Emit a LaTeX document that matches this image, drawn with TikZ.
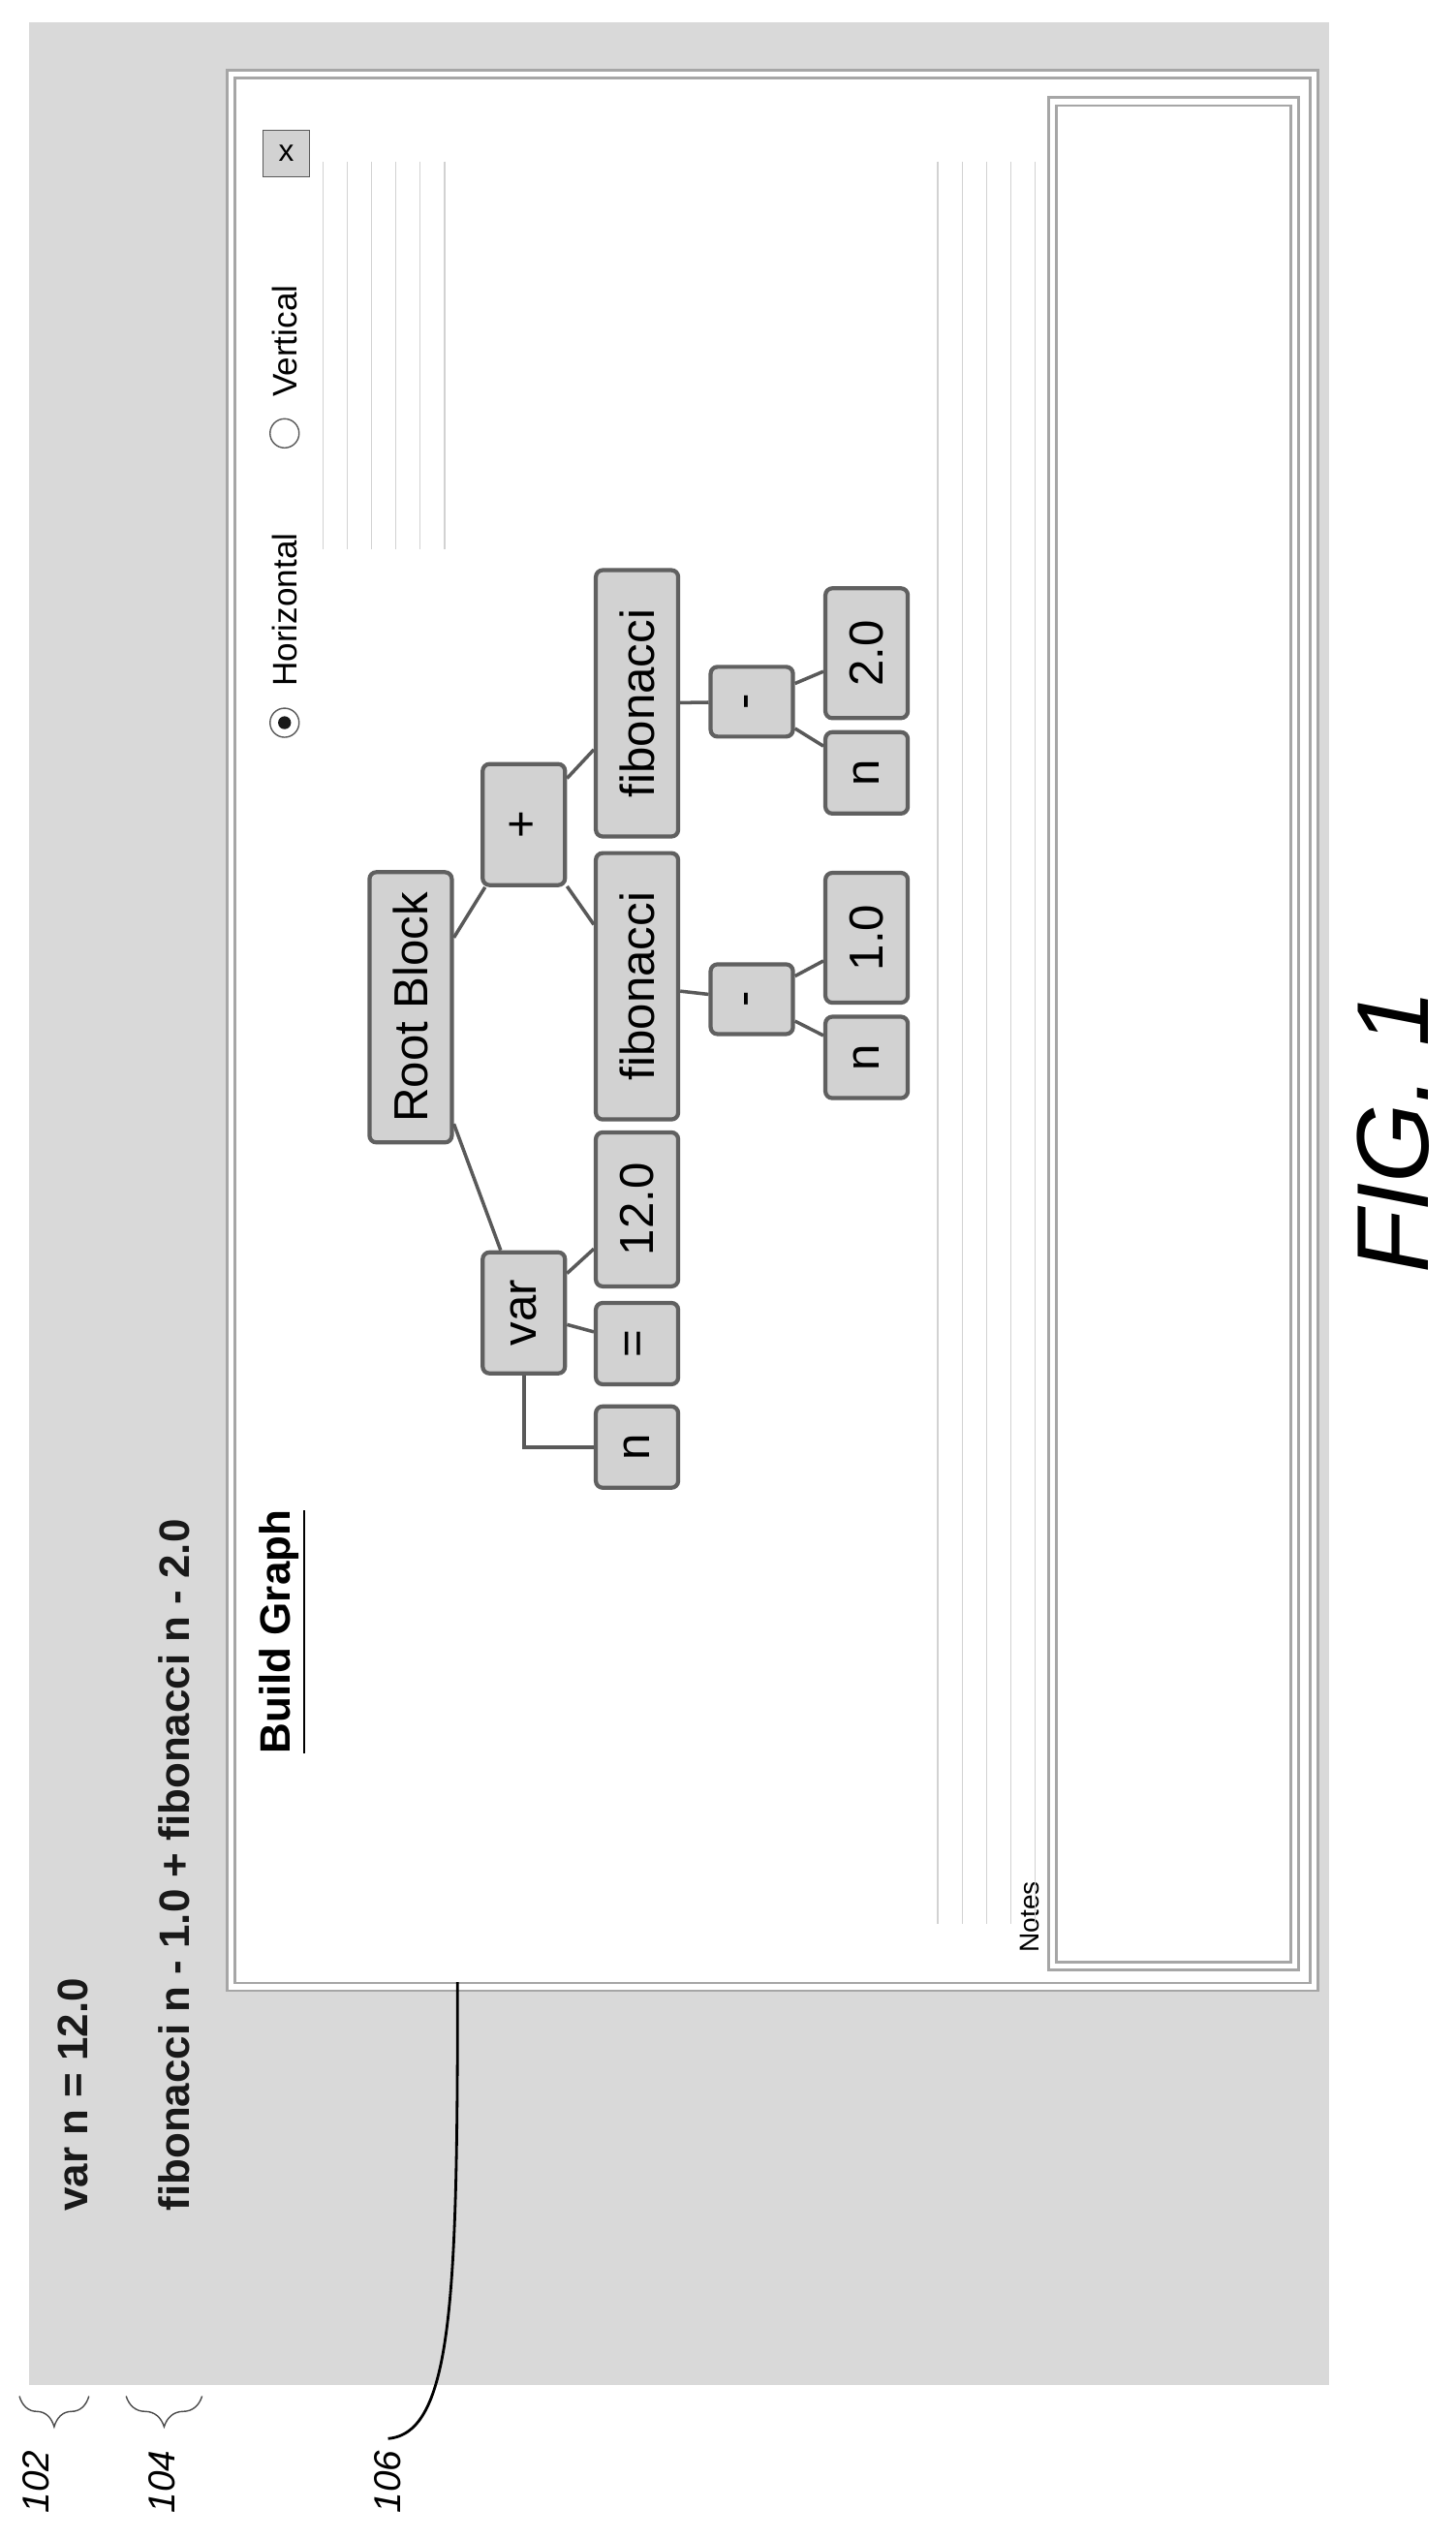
\documentclass[tikz,border=0pt]{standalone}
\usepackage{fontspec}
\setmainfont{Liberation Sans}
\usetikzlibrary{decorations.pathreplacing}

\begin{document}
\begin{tikzpicture}[
    x=0.01669cm, y=-0.01669cm,
    block/.style={rectangle, draw=gray!75!black, line width=1.2pt, rounded corners=2pt, fill=gray!35, minimum height=0.85cm, rotate=90, font=\fontsize{14}{16}\selectfont, inner sep=1pt},
    edge/.style={draw=gray!70!black, line width=1pt},
    frame/.style={draw=gray!70, line width=0.8pt, double=white, double distance=1.5pt},
    rotlabel/.style={rotate=90, font=\fontsize{10}{12}\selectfont},
    srcline/.style={rotate=90, anchor=west, font=\fontsize{12.5}{14}\selectfont\bfseries, text=gray!20!black},
    refnum/.style={rotate=90, font=\fontsize{11}{13}\selectfont\itshape},
    faint/.style={draw=gray!35, line width=0.3pt}
]
    \useasboundingbox (0,0) rectangle (900,1571);
    % Background panel
    \fill[gray!30] (18,14) rectangle (822,1475);
    % Source lines
    \node[srcline] (line1) at (45,1375) {var n = 12.0};
    \node[srcline] (line2) at (108,1375) {fibonacci n - 1.0 + fibonacci n - 2.0};
    % Window
    \node[frame, fill=white, minimum width=670*0.01669cm, minimum height=1183*0.01669cm, anchor=north west, inner sep=0pt] (win) at (142,45) {};
    \node[frame, fill=white, minimum width=150*0.01669cm, minimum height=1153*0.01669cm, anchor=north west, inner sep=0pt] (notes) at (650,62) {};
    \node[rotlabel, anchor=west, font=\fontsize{8}{10}\selectfont] (noteslbl) at (637,1215) {Notes};
    % Faint guide lines
    \foreach \gx in {200,215,230,245,260,275}
        \draw[faint] (\gx,100) -- (\gx,340);
    \foreach \gx in {580,595,610,625,640}
        \draw[faint] (\gx,100) -- (\gx,1190);
    % Title and controls
    \node[rotate=90, anchor=west, font=\fontsize{12.5}{15}\selectfont\bfseries] (title) at (175,1092) {\underline{Build Graph}};
    \node[rectangle, draw=gray!70!black, fill=gray!35, minimum size=0.48cm, inner sep=0pt, font=\small] (close) at (177,95) {x};
    \node[circle, draw=gray!70!black, fill=white, minimum size=0.3cm, inner sep=0pt] (radioh) at (176,447) {};
    \fill[gray!20!black] (radioh) circle (4);
    \node[rotlabel, anchor=west] (horiz) at (176,432) {Horizontal};
    \node[circle, draw=gray!70!black, fill=white, minimum size=0.3cm, inner sep=0pt] (radiov) at (176,268) {};
    \node[rotlabel, anchor=west] (vert) at (176,253) {Vertical};
    % Tree nodes
    \node[block, minimum width=2.79cm] (root) at (254,623) {Root Block};
    \node[block, minimum width=1.25cm] (var) at (324,812) {var};
    \node[block, minimum width=1.25cm] (plus) at (324,510) {+};
    \node[block, minimum width=0.84cm] (nv) at (394,895) {n};
    \node[block, minimum width=0.84cm] (eq) at (394,831) {=};
    \node[block, minimum width=1.59cm] (twelve) at (394,748) {12.0};
    \node[block, minimum width=2.75cm] (fibA) at (394,610) {fibonacci};
    \node[block, minimum width=2.75cm] (fibB) at (394,435) {fibonacci};
    \node[block, minimum width=0.72cm] (minA) at (465,618) {-};
    \node[block, minimum width=0.72cm] (minB) at (465,434) {-};
    \node[block, minimum width=0.84cm] (nA) at (536,654) {n};
    \node[block, minimum width=1.34cm] (oneA) at (536,580) {1.0};
    \node[block, minimum width=0.84cm] (nB) at (536,478) {n};
    \node[block, minimum width=1.34cm] (twoB) at (536,404) {2.0};
    % Connectors
    \draw[edge] (root) -- (var);
    \draw[edge] (root) -- (plus);
    \draw[edge] (var) -- (eq);
    \draw[edge] (var) -- (twelve);
    \draw[edge] (var) |- (nv);
    \draw[edge] (plus) -- (fibA);
    \draw[edge] (plus) -- (fibB);
    \draw[edge] (fibA) -- (minA);
    \draw[edge] (fibB) -- (minB);
    \draw[edge] (minA) -- (nA);
    \draw[edge] (minA) -- (oneA);
    \draw[edge] (minB) -- (nB);
    \draw[edge] (minB) -- (twoB);
    % Reference numerals
    \coordinate (b1a) at (12,1482);
    \coordinate (b1b) at (55,1482);
    \coordinate (b2a) at (78,1482);
    \coordinate (b2b) at (125,1482);
    \draw[gray!60!black, decorate, decoration={brace, amplitude=9pt, mirror}] (b1a) -- (b1b);
    \draw[gray!60!black, decorate, decoration={brace, amplitude=9pt, mirror}] (b2a) -- (b2b);
    \node[refnum] (r102) at (22,1535) {102};
    \node[refnum] (r104) at (100,1535) {104};
    \node[refnum] (r106) at (240,1535) {106};
    \coordinate (p106) at (283,1226);
    \draw[line width=0.8pt] (p106) .. controls (283,1420) and (280,1505) .. (r106.east);
    \node[rotate=90, font=\fontsize{30}{34}\selectfont\itshape] (fig) at (862,700) {FIG. 1};
\end{tikzpicture}
\end{document}
